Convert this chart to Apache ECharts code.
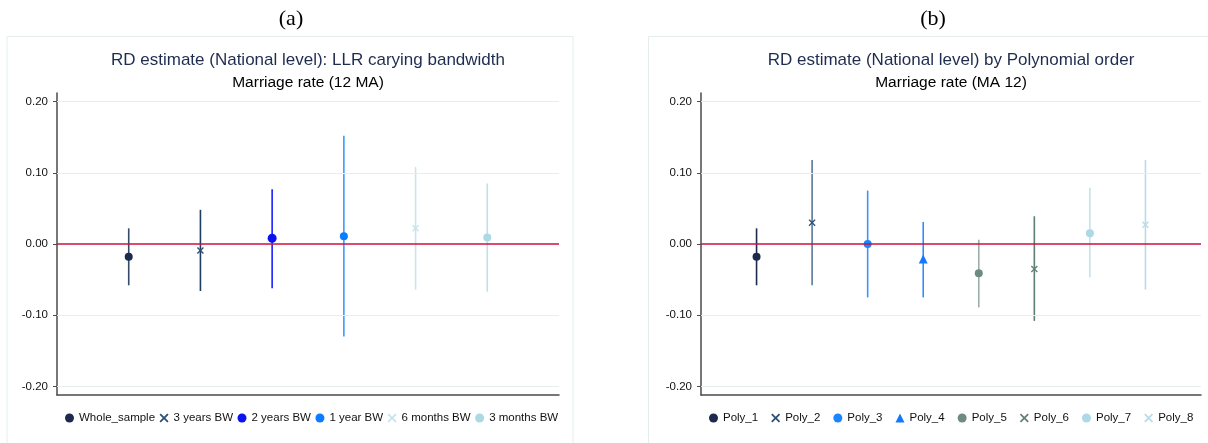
<!DOCTYPE html>
<html>
<head>
<meta charset="utf-8">
<script src="https://cdn.jsdelivr.net/npm/echarts@6/dist/echarts.min.js"></script>
<style>
  html, body { margin: 0; padding: 0; background: #ffffff; }
  #chart { width: 1208px; height: 443px; }
</style>
</head>
<body>
<div id="chart"></div>
<script>
// Panel (a): LLR estimates by bandwidth
const bwCategories = ['Whole_sample', '3 years BW', '2 years BW', '1 year BW', '6 months BW', '3 months BW'];
const bwEstimate = [-0.018, -0.009, 0.008, 0.011, 0.022, 0.009];
const bwLower    = [-0.058, -0.066, -0.062, -0.130, -0.064, -0.067];
const bwUpper    = [0.022, 0.048, 0.077, 0.152, 0.108, 0.085];

// Panel (b): estimates by polynomial order
const polyCategories = ['Poly_1', 'Poly_2', 'Poly_3', 'Poly_4', 'Poly_5', 'Poly_6', 'Poly_7', 'Poly_8'];
const polyEstimate = [-0.018, 0.030, 0.000, -0.021, -0.041, -0.035, 0.015, 0.027];
const polyLower    = [-0.058, -0.058, -0.075, -0.075, -0.089, -0.108, -0.047, -0.064];
const polyUpper    = [0.022, 0.118, 0.075, 0.031, 0.006, 0.039, 0.079, 0.118];

// Y-axis ticks shared by both panels
const yTicks = [-0.2, -0.1, 0, 0.1, 0.2];

// Marker shapes and colours
const CROSS = 'path://M0,1.4L1.4,0L5,3.6L8.6,0L10,1.4L6.4,5L10,8.6L8.6,10L5,6.4L1.4,10L0,8.6L3.6,5Z';
const bwStyle = [
  { symbol: 'circle', size: 8, color: '#1c2a4d', line: '#34496b' },
  { symbol: CROSS, size: 7, color: '#2d4f77', line: '#1f3c61' },
  { symbol: 'circle', size: 9, color: '#0b12f2', line: '#1a1fff' },
  { symbol: 'circle', size: 8, color: '#0a7dff', line: '#3b9cff' },
  { symbol: CROSS, size: 7, color: '#c6e3ee', line: '#c9e4ee' },
  { symbol: 'circle', size: 8, color: '#add8e6', line: '#bfe0ea' }
];
const polyStyle = [
  { symbol: 'circle', size: 8, color: '#1c2a4d', line: '#1c2a4d' },
  { symbol: CROSS, size: 7, color: '#2d4f77', line: '#5b7899' },
  { symbol: 'circle', size: 8, color: '#1a85ff', line: '#3b95ff' },
  { symbol: 'triangle', size: 9, color: '#1478ff', line: '#2f8dff' },
  { symbol: 'circle', size: 8, color: '#6e8b80', line: '#9aada6' },
  { symbol: CROSS, size: 7, color: '#62807a', line: '#5d7f73' },
  { symbol: 'circle', size: 8, color: '#add8e6', line: '#c3e2ec' },
  { symbol: CROSS, size: 7, color: '#b8dce8', line: '#b7dbe8' }
];

const FONT = '"Liberation Sans", Arial, Helvetica, sans-serif';
const SERIF = '"Liberation Serif", "Times New Roman", serif';
const Y_LIMIT = 0.2121;

function xAxisFor(gridIndex, count) {
  return {
    type: 'value', gridIndex, min: 0, max: count + 1,
    axisLine: { show: true, onZero: false, lineStyle: { color: '#4a4a4a', width: 1.5 } },
    axisTick: { show: false }, axisLabel: { show: false }, splitLine: { show: false }
  };
}
function yAxisFor(gridIndex) {
  return {
    type: 'value', gridIndex, min: -Y_LIMIT, max: Y_LIMIT,
    axisLine: { show: true, onZero: false, lineStyle: { color: '#4a4a4a', width: 1.5 } },
    axisTick: { show: true, length: 4, customValues: yTicks, lineStyle: { color: '#4a4a4a', width: 1 } },
    axisLabel: {
      show: true, customValues: yTicks, margin: 9, fontSize: 11.5, color: '#111', fontFamily: FONT,
      formatter: v => v.toFixed(2)
    },
    splitLine: { show: false }
  };
}

// Reference lines: light gridlines at the ticks and a red line at zero
function refLines(gridIndex) {
  return {
    type: 'line', xAxisIndex: gridIndex, yAxisIndex: gridIndex, data: [], silent: true,
    markLine: {
      silent: true, symbol: 'none', label: { show: false }, animation: false,
      data: yTicks.map(v => ({
        yAxis: v,
        lineStyle: v === 0
          ? { color: '#d10f3c', width: 1.5, type: 'solid' }
          : { color: '#e6eff0', width: 1, type: 'solid' }
      }))
    },
    z: 1
  };
}

// Confidence interval whiskers
function whiskers(gridIndex, lower, upper, styles) {
  return {
    type: 'custom', xAxisIndex: gridIndex, yAxisIndex: gridIndex, silent: true,
    data: lower.map((lo, i) => [i + 1, lo, upper[i]]),
    encode: { x: 0, y: [1, 2] },
    renderItem: (params, api) => {
      const a = api.coord([api.value(0), api.value(1)]);
      const b = api.coord([api.value(0), api.value(2)]);
      return {
        type: 'line',
        shape: { x1: a[0], y1: a[1], x2: b[0], y2: b[1] },
        style: { stroke: styles[params.dataIndex].line, lineWidth: 1.6 }
      };
    },
    z: 2
  };
}

function markers(gridIndex, names, estimates, styles) {
  return names.map((name, i) => ({
    name, type: 'scatter', xAxisIndex: gridIndex, yAxisIndex: gridIndex,
    symbol: styles[i].symbol, symbolSize: styles[i].size,
    itemStyle: { color: styles[i].color, opacity: 1 },
    data: [[i + 1, estimates[i]]], z: 3
  }));
}

const legendText = { fontSize: 11.5, color: '#111', fontFamily: FONT };

const chart = echarts.init(document.getElementById('chart'), null, { renderer: 'canvas' });

chart.setOption({
  animation: false,
  backgroundColor: '#ffffff',
  grid: [
    { left: 57, top: 93, width: 502, height: 302 },
    { left: 701, top: 93, width: 500, height: 302 }
  ],
  xAxis: [xAxisFor(0, bwCategories.length), xAxisFor(1, polyCategories.length)],
  yAxis: [yAxisFor(0), yAxisFor(1)],
  legend: [
    {
      data: bwCategories, left: 65, top: 412, width: 560, itemGap: 4.5, itemWidth: 9, itemHeight: 9,
      padding: 0, textStyle: legendText
    },
    {
      data: polyCategories, left: 709, top: 412, width: 560, itemGap: 13, itemWidth: 9, itemHeight: 9,
      padding: 0, textStyle: legendText
    }
  ],
  graphic: [
    { type: 'rect', shape: { x: 7, y: 36.5, width: 566, height: 420 }, style: { fill: 'none', stroke: '#e3eded', lineWidth: 1 }, z: -1, silent: true },
    { type: 'rect', shape: { x: 648.5, y: 36.5, width: 580, height: 420 }, style: { fill: 'none', stroke: '#e3eded', lineWidth: 1 }, z: -1, silent: true },
    { type: 'text', x: 291, y: 19, style: { text: '(a)', font: '22px ' + SERIF, fill: '#000', textAlign: 'center', textVerticalAlign: 'middle' } },
    { type: 'text', x: 933, y: 19, style: { text: '(b)', font: '22px ' + SERIF, fill: '#000', textAlign: 'center', textVerticalAlign: 'middle' } },
    { type: 'text', x: 308, y: 60, style: { text: 'RD estimate (National level): LLR carying bandwidth', font: '17px ' + FONT, fill: '#1e2c50', textAlign: 'center', textVerticalAlign: 'middle' } },
    { type: 'text', x: 308, y: 82.5, style: { text: 'Marriage rate (12 MA)', font: '15.5px ' + FONT, fill: '#000', textAlign: 'center', textVerticalAlign: 'middle' } },
    { type: 'text', x: 951, y: 60, style: { text: 'RD estimate (National level) by Polynomial order', font: '17px ' + FONT, fill: '#1e2c50', textAlign: 'center', textVerticalAlign: 'middle' } },
    { type: 'text', x: 951, y: 82.5, style: { text: 'Marriage rate (MA 12)', font: '15.5px ' + FONT, fill: '#000', textAlign: 'center', textVerticalAlign: 'middle' } }
  ],
  series: [
    refLines(0),
    refLines(1),
    whiskers(0, bwLower, bwUpper, bwStyle),
    whiskers(1, polyLower, polyUpper, polyStyle),
    ...markers(0, bwCategories, bwEstimate, bwStyle),
    ...markers(1, polyCategories, polyEstimate, polyStyle)
  ]
});
</script>
</body>
</html>
